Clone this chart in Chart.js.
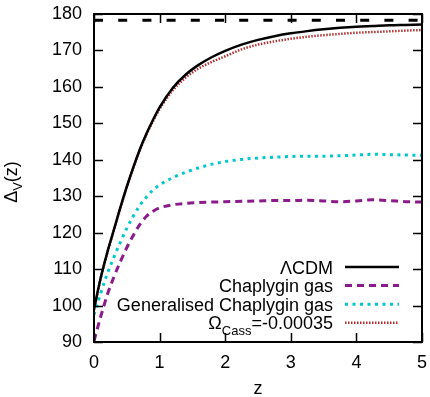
<!DOCTYPE html>
<html>
<head>
  <meta charset="UTF-8">
  <title>Delta_V(z)</title>
  <script src="https://cdn.jsdelivr.net/npm/chart.js"></script>
  <style>
    html, body { margin: 0; padding: 0; background: #fff; }
    #wrap { width: 430px; height: 397px; }
  </style>
</head>
<body>
  <div id="wrap"><canvas id="chart" width="430" height="397"></canvas></div>

  <script>
    // redshift grid and the curves
    const zValues = [0, 0.1, 0.2, 0.3, 0.4, 0.5, 0.6, 0.7, 0.8, 0.9, 1.0, 1.2, 1.4, 1.6, 1.8, 2.0,
                     2.25, 2.5, 2.75, 3.0, 3.25, 3.5, 3.75, 4.0, 4.25, 4.5, 4.75, 5.0];
    const lcdm = [99, 107.4, 114.4, 120.6, 126.8, 132.6, 138.0, 142.9, 147.2, 151.0, 154.4, 159.7, 163.4, 166.1, 168.2, 169.9,
                  171.6, 172.9, 173.9, 174.7, 175.3, 175.8, 176.2, 176.5, 176.7, 176.9, 177.0, 177.1];
    const chaplygin = [90.3, 96.8, 102.8, 107.7, 112.0, 115.9, 119.3, 122.3, 124.5, 125.9, 126.8, 127.65, 128.05, 128.3, 128.4, 128.5,
                       128.6, 128.7, 128.8, 128.8, 128.9, 128.7, 128.5, 128.7, 129.0, 128.8, 128.5, 128.4];
    const genChaplygin = [97.5, 103.3, 108.6, 113.1, 117.3, 121.2, 124.6, 127.5, 129.8, 131.7, 133.1, 135.1, 136.6, 137.8, 138.8, 139.5,
                          140.1, 140.5, 140.7, 140.9, 141, 141, 141.1, 141.3, 141.5, 141.4, 141.3, 141.2];
    const omegaCass = [98.8, 107.3, 114.3, 120.5, 126.7, 132.5, 137.8, 142.7, 146.9, 150.6, 153.9, 159.0, 162.6, 165.1, 166.9, 168.4,
                       170.3, 171.6, 172.5, 173.2, 173.75, 174.2, 174.55, 174.85, 175.05, 175.25, 175.45, 175.6];
    const limitZ = [0, 5];
    const limitValue = [178.3, 178.3];

    const xTicks = [0, 1, 2, 3, 4, 5];
    const yTicks = [90, 100, 110, 120, 130, 140, 150, 160, 170, 180];

    const FONT = '"Liberation Sans", Arial, sans-serif';

    function pts(xs, ys) {
      return xs.map((x, i) => ({ x: x, y: ys[i] }));
    }

    // legend entries, drawn right-aligned inside the plot like gnuplot does
    const legendItems = [
      { label: 'ΛCDM', ds: 0 },
      { label: 'Chaplygin gas', ds: 1 },
      { label: 'Generalised Chaplygin gas', ds: 2 },
      { label: 'Ω|Cass|=-0.00035', ds: 3 }
    ];

    // draws text with an optional subscript part: "main|sub|rest"
    function subText(ctx, text, x, y, align, size) {
      const parts = text.split('|');
      const big = size + 'px ' + FONT;
      const small = Math.round(size * 0.72) + 'px ' + FONT;
      ctx.font = big;
      const w0 = ctx.measureText(parts[0]).width;
      const w2 = parts[2] ? ctx.measureText(parts[2]).width : 0;
      ctx.font = small;
      const w1 = parts[1] ? ctx.measureText(parts[1]).width : 0;
      const total = w0 + w1 + w2;
      let cx = align === 'right' ? x - total : (align === 'center' ? x - total / 2 : x);
      ctx.textAlign = 'left';
      ctx.textBaseline = 'alphabetic';
      ctx.font = big;
      ctx.fillText(parts[0], cx, y);
      cx += w0;
      if (parts[1]) {
        ctx.font = small;
        ctx.fillText(parts[1], cx, y + size * 0.3);
        cx += w1;
      }
      if (parts[2]) {
        ctx.font = big;
        ctx.fillText(parts[2], cx, y);
      }
    }

    const framePlugin = {
      id: 'frame',
      afterDatasetsDraw(chart) {
        const ctx = chart.ctx;
        const a = chart.chartArea;
        const xs = chart.scales.x;
        const ys = chart.scales.y;
        const tick = 9;
        ctx.save();
        ctx.strokeStyle = '#000';
        ctx.lineWidth = 1.5;
        ctx.beginPath();
        xTicks.forEach(v => {
          const px = Math.round(xs.getPixelForValue(v)) + 0.5;
          ctx.moveTo(px, a.bottom); ctx.lineTo(px, a.bottom - tick);
          ctx.moveTo(px, a.top); ctx.lineTo(px, a.top + tick);
        });
        yTicks.forEach(v => {
          const py = Math.round(ys.getPixelForValue(v)) + 0.5;
          ctx.moveTo(a.left, py); ctx.lineTo(a.left + tick, py);
          ctx.moveTo(a.right, py); ctx.lineTo(a.right - tick, py);
        });
        ctx.stroke();
        ctx.lineWidth = 2;
        ctx.strokeRect(a.left, a.top, a.right - a.left, a.bottom - a.top);

        // key
        ctx.fillStyle = '#000';
        const textRight = a.right - 89;
        const sx0 = a.right - 77, sx1 = a.right - 23;
        legendItems.forEach((item, i) => {
          const rowY = a.bottom - 75 + i * 18.6;
          subText(ctx, item.label, textRight, rowY + 6.5, 'right', 18);
          const ds = chart.data.datasets[item.ds];
          ctx.save();
          ctx.strokeStyle = ds.borderColor;
          ctx.lineWidth = ds.borderWidth;
          ctx.setLineDash(ds.borderDash || []);
          ctx.beginPath();
          ctx.moveTo(sx0, rowY); ctx.lineTo(sx1, rowY);
          ctx.stroke();
          ctx.restore();
        });

        // axis titles
        subText(ctx, 'z', (a.left + a.right) / 2, 394, 'center', 18);
        ctx.save();
        ctx.translate(17, (a.top + a.bottom) / 2 + 4);
        ctx.rotate(-Math.PI / 2);
        subText(ctx, 'Δ|V|(z)', 0, 0, 'center', 18);
        ctx.restore();
        ctx.restore();
      }
    };

    const ctx = document.getElementById('chart').getContext('2d');
    new Chart(ctx, {
      type: 'line',
      data: {
        datasets: [
          { label: 'ΛCDM', data: pts(zValues, lcdm), borderColor: '#000000', borderWidth: 2.5 },
          { label: 'Chaplygin gas', data: pts(zValues, chaplygin), borderColor: '#8b1a8b', borderWidth: 3, borderDash: [7, 5] },
          { label: 'Generalised Chaplygin gas', data: pts(zValues, genChaplygin), borderColor: '#00c8cc', borderWidth: 3, borderDash: [3, 4.5] },
          { label: 'Omega_Cass', data: pts(zValues, omegaCass), borderColor: '#b03030', borderWidth: 2.5, borderDash: [1.5, 1.5] },
          { label: 'limit', data: pts(limitZ, limitValue), borderColor: '#000000', borderWidth: 3, borderDash: [9, 15.2] }
        ]
      },
      options: {
        responsive: false,
        animation: false,
        events: [],
        layout: { padding: { top: 14, right: 8, left: 0, bottom: 0 } },
        elements: {
          point: { radius: 0 },
          line: { cubicInterpolationMode: 'monotone', fill: false }
        },
        plugins: {
          legend: { display: false },
          tooltip: { enabled: false }
        },
        scales: {
          x: {
            type: 'linear',
            min: 0,
            max: 5,
            afterFit: s => { s.height = 55; s.paddingLeft = 0; s.paddingRight = 0; },
            afterBuildTicks: s => { s.ticks = xTicks.map(v => ({ value: v })); },
            grid: { display: false, drawTicks: false },
            border: { display: false },
            ticks: { padding: 10, color: '#000', font: { family: FONT, size: 18 } }
          },
          y: {
            type: 'linear',
            min: 90,
            max: 180,
            afterFit: s => { s.width = 94; s.paddingTop = 0; s.paddingBottom = 0; },
            afterBuildTicks: s => { s.ticks = yTicks.map(v => ({ value: v })); },
            grid: { display: false, drawTicks: false },
            border: { display: false },
            ticks: { padding: 12, color: '#000', font: { family: FONT, size: 18 } }
          }
        }
      },
      plugins: [framePlugin]
    });
  </script>
</body>
</html>
